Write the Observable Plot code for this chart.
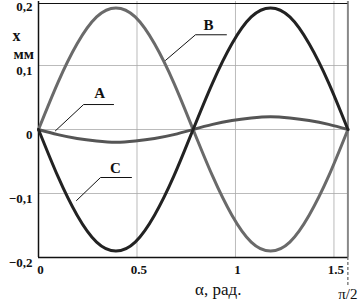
<!DOCTYPE html>
<html><head><meta charset="utf-8">
<script src="https://cdn.jsdelivr.net/npm/d3@7"></script>
<script src="https://cdn.jsdelivr.net/npm/@observablehq/plot@0.6"></script>
<style>body{margin:0;background:#fff;overflow:hidden} svg text{font-family:'Liberation Serif','Times New Roman',serif}</style>
</head><body><div id="chart"></div>
<script>
const alpha = [0, 0.098, 0.196, 0.295, 0.393, 0.491, 0.589, 0.687, 0.785, 0.884, 0.982, 1.080, 1.178, 1.276, 1.374, 1.473, 1.571];
const seriesA = [0, -0.008, -0.014, -0.018, -0.020, -0.018, -0.014, -0.008, 0, 0.008, 0.014, 0.018, 0.020, 0.018, 0.014, 0.008, 0];
const seriesB = [0, 0.073, 0.134, 0.176, 0.190, 0.176, 0.134, 0.073, 0, -0.073, -0.134, -0.176, -0.190, -0.176, -0.134, -0.073, 0];
const seriesC = [0, -0.073, -0.134, -0.176, -0.190, -0.176, -0.134, -0.073, 0, 0.073, 0.134, 0.176, 0.190, 0.176, 0.134, 0.073, 0];
const seriesNames = ["A", "B", "C"];
const yTicks = [-0.2, -0.1, 0, 0.1, 0.2];
const yTickLabels = ["−0,2", "−0,1", "0", "0,1", "0,2"];
const xTicks = [0, 0.5, 1, 1.5];
const xTickLabels = ["0", "0.5", "1", "1.5"];
const xEnd = 1.5708;
const xEndLabel = "π/2";
const xTitle = "α, рад.";
const yTitle = ["x", "мм"];
// annotation anchors (data units): label position, elbow start, elbow end, curve point
const labelX = [0.31, 0.863, 0.391];
const labelY = [0.057, 0.163, -0.060];
const leaderX0 = [0.381, 0.954, 0.472];
const leaderX1 = [0.229, 0.797, 0.315];
const leaderY = [0.039, 0.148, -0.075];
const leaderEndX = [0.086, 0.645, 0.193];
const leaderEndY = [-0.002, 0.108, -0.111];

const serif = "'Liberation Serif', 'Times New Roman', serif";
const rows = [];
const seriesVals = [seriesA, seriesB, seriesC];
seriesNames.forEach((s, i) => alpha.forEach((a, j) => rows.push({s, a, v: seriesVals[i][j]})));
const leaders = [];
seriesNames.forEach((s, i) => {
  leaders.push({s, x: leaderX0[i], y: leaderY[i]});
  leaders.push({s, x: leaderX1[i], y: leaderY[i]});
  leaders.push({s, x: leaderEndX[i], y: leaderEndY[i]});
});
const labels = seriesNames.map((s, i) => ({s, x: labelX[i], y: labelY[i]}));
const colors = {A: "#555", B: "#6a6a6a", C: "#222"};

const chart = Plot.plot({
  width: 359, height: 304,
  marginLeft: 38, marginRight: 11.6, marginTop: 1, marginBottom: 47,
  style: {fontFamily: serif, background: "#fff"},
  x: {domain: [0, xEnd]},
  y: {domain: [-0.2, 0.2]},
  marks: [
    Plot.gridY(yTicks.filter(d => Math.abs(d) < 0.2), {stroke: "#aaa", strokeOpacity: 1, strokeWidth: 0.8}),
    Plot.gridX(xTicks.filter(d => d > 0), {stroke: "#aaa", strokeOpacity: 1, strokeWidth: 0.8}),
    Plot.ruleX([xEnd], {stroke: "#888", strokeWidth: 2}),
    Plot.ruleX([xEnd], {y1: -0.2, y2: -0.245, stroke: "#444", strokeWidth: 1, strokeDasharray: "3,2", clip: false}),
    Plot.ruleY([0.2], {dy: 2, stroke: "#111", strokeWidth: 1.2}),
    Plot.ruleY([-0.2], {stroke: "#111", strokeWidth: 1.5}),
    Plot.ruleX([0], {stroke: "#111", strokeWidth: 1.5}),
    Plot.line(rows.filter(d => d.s === "A"), {x: "a", y: "v", stroke: colors.A, strokeWidth: 3, curve: "natural"}),
    Plot.line(rows.filter(d => d.s === "B"), {x: "a", y: "v", stroke: colors.B, strokeWidth: 3, curve: "natural"}),
    Plot.line(rows.filter(d => d.s === "C"), {x: "a", y: "v", stroke: colors.C, strokeWidth: 3, curve: "natural"}),
    Plot.line(leaders, {x: "x", y: "y", z: "s", stroke: "#111", strokeWidth: 1}),
    Plot.text(labels, {x: "x", y: "y", text: "s", fontSize: 15, fontWeight: "bold", fill: "#111", fontFamily: serif}),
    Plot.axisY(yTicks, {tickSize: 0, tickPadding: 6, dy: 5, fontSize: 13, fontWeight: "bold", fill: "#111", fontFamily: serif,
      tickFormat: d => yTickLabels[yTicks.indexOf(d)], label: null}),
    Plot.axisX(xTicks, {tickSize: 0, tickPadding: 7, dx: 2, fontSize: 13, fontWeight: "bold", fill: "#111", fontFamily: serif,
      tickFormat: d => xTickLabels[xTicks.indexOf(d)], label: null}),
    Plot.text([xEndLabel], {frameAnchor: "bottom-right", dx: 0, dy: 41, fontSize: 15, fill: "#111", textAnchor: "middle", fontFamily: serif}),
    Plot.text([xTitle], {frameAnchor: "bottom", dx: 25, dy: 37, fontSize: 17, fill: "#111", fontFamily: serif}),
    Plot.text([yTitle[0]], {frameAnchor: "top-left", dx: -26, dy: 28, fontSize: 16, fontWeight: "bold", fill: "#111", fontFamily: serif}),
    Plot.text([yTitle[1]], {frameAnchor: "top-left", dx: -25, dy: 47, fontSize: 15, fontWeight: "bold", fill: "#111", fontFamily: serif})
  ]
});
document.getElementById("chart").appendChild(chart);
</script>
</body></html>
